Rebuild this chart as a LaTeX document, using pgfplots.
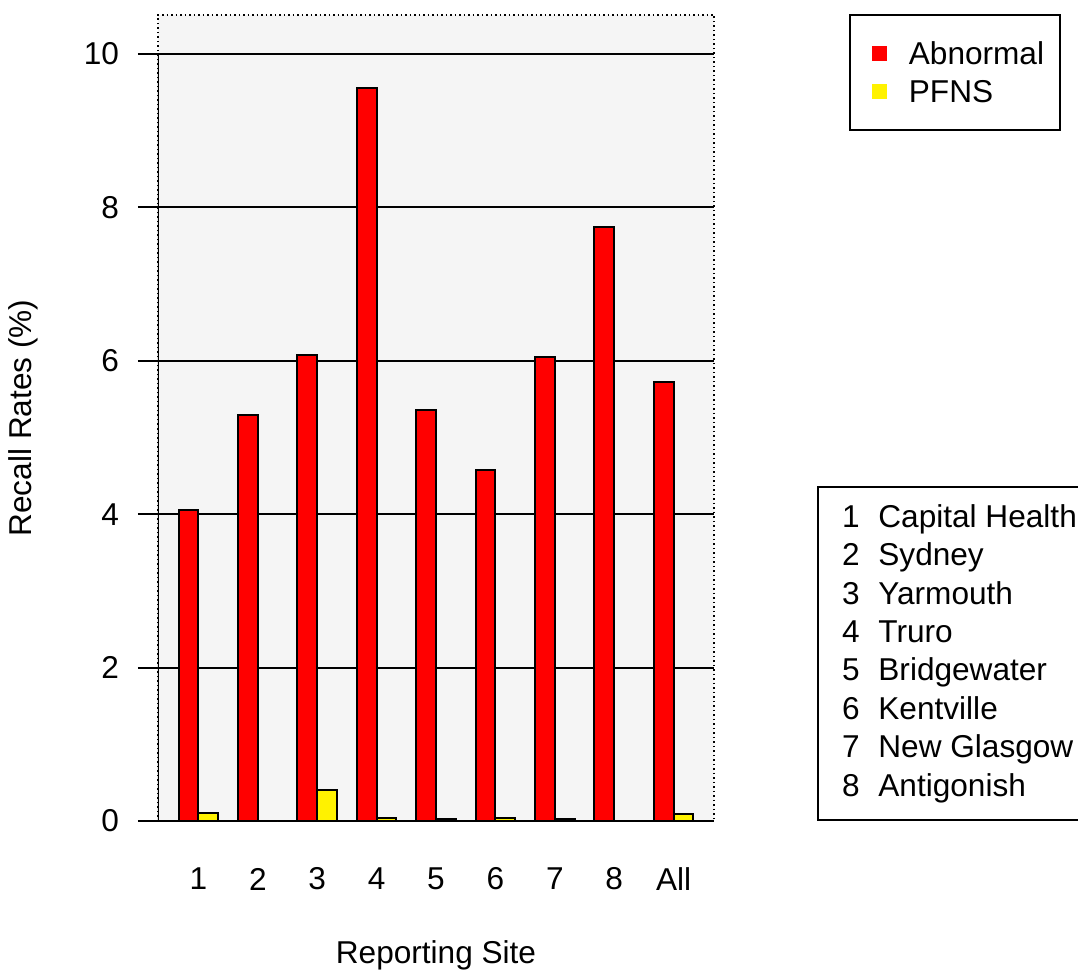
\documentclass[border=0pt]{standalone}
\usepackage{fontspec}
\setmainfont{Liberation Sans}
\usepackage{pgfplots}
\pgfplotsset{compat=1.18}
\definecolor{panel}{HTML}{F5F5F5}
\begin{document}
\fontsize{15.8pt}{19pt}\selectfont
\begin{tikzpicture}
  \path[use as bounding box] (0,0) rectangle (539pt,-486.5pt);
  \begin{axis}[
      at={(79pt,-410.5pt)}, anchor=south west,
      scale only axis, width=278pt, height=403pt,
      xmin=-0.68, xmax=8.68, ymin=0, ymax=10.51,
      axis background/.style={fill=panel},
      axis line style={line width=0.75pt, dash pattern=on 0.75pt off 1.5pt},
      xtick={0,...,8}, xticklabels={1,2,3,4,5,6,7,8,All},
      ytick={0,2,...,10},
      tick align=outside, major tick length=10pt,
      ytick pos=left, xtick pos=bottom,
      xtick style={draw=none},
      ytick style={line width=1pt, black},
      ymajorgrids, grid style={line width=1pt, black},
      /pgf/number format/assume math mode=true,
      yticklabel style={xshift=-4pt},
      xticklabel style={anchor=center, yshift=-19pt},
      xlabel={Reporting Site}, ylabel={Recall Rates (\%)},
      every axis x label/.style={at={(axis description cs:0.5,0)}, yshift=-67pt, anchor=center},
      every axis y label/.style={at={(axis description cs:0,0.5)}, xshift=-67.5pt, rotate=90, anchor=center},
      legend cell align=left,
      legend style={at={(axis description cs:1.243,1.001)}, anchor=north west,
        draw=black, line width=0.75pt, fill=white,
        inner xsep=0pt, inner ysep=9.75pt, row sep=0pt, column sep=0pt,
        nodes={inner sep=0pt, text width=75.5pt, align=left, anchor=base west,
          text height=11pt, text depth=3pt}},
    ]

    % abnormal
    \addplot[ybar, forget plot, bar width=0.3333, bar shift=-0.16667, fill=red, draw=black, line width=1pt]
    coordinates {(0,4.06) (1,5.30) (2,6.08) (3,9.56) (4,5.36) (5,4.58) (6,6.05) (7,7.74) (8,5.73)};

    % pfns
    \addplot[ybar, forget plot, bar width=0.3333, bar shift=0.16667, fill=yellow, draw=black, line width=1pt]
    coordinates {(0,0.11) (1,0.0) (2,0.40) (3,0.045) (4,0.025) (5,0.045) (6,0.03) (7,0.0) (8,0.087)};

    \addlegendimage{legend image code/.code={\path[draw=none,fill=none] (0pt,-3.85pt) rectangle (29.5pt,15.15pt);
        \fill[red,draw=none] (11pt,1.9pt) rectangle (18.5pt,9.4pt);}}
    \addlegendentry{Abnormal}
    \addlegendimage{legend image code/.code={\path[draw=none,fill=none] (0pt,-3.85pt) rectangle (29.5pt,15.15pt);
        \fill[yellow,draw=none] (11pt,1.9pt) rectangle (18.5pt,9.4pt);}}
    \addlegendentry{PFNS}

    \draw[line width=1pt] (axis cs:-0.68,0) -- (axis cs:-0.68,10);
  \end{axis}

  % site key
  \draw[line width=0.75pt] (409pt,-243.5pt) rectangle (550pt,-410pt);
  \foreach \n/\s [count=\k from 0] in {1/Capital Health, 2/Sydney, 3/Yarmouth, 4/Truro,
      5/Bridgewater, 6/Kentville, 7/New Glasgow, 8/Antigonish} {
    \node[anchor=base, inner sep=0pt] at (425.5pt,{-263.65pt-19.2pt*\k}) {\n};
    \node[anchor=base west, inner sep=0pt] at (439pt,{-263.65pt-19.2pt*\k}) {\s};
  }
\end{tikzpicture}
\end{document}
